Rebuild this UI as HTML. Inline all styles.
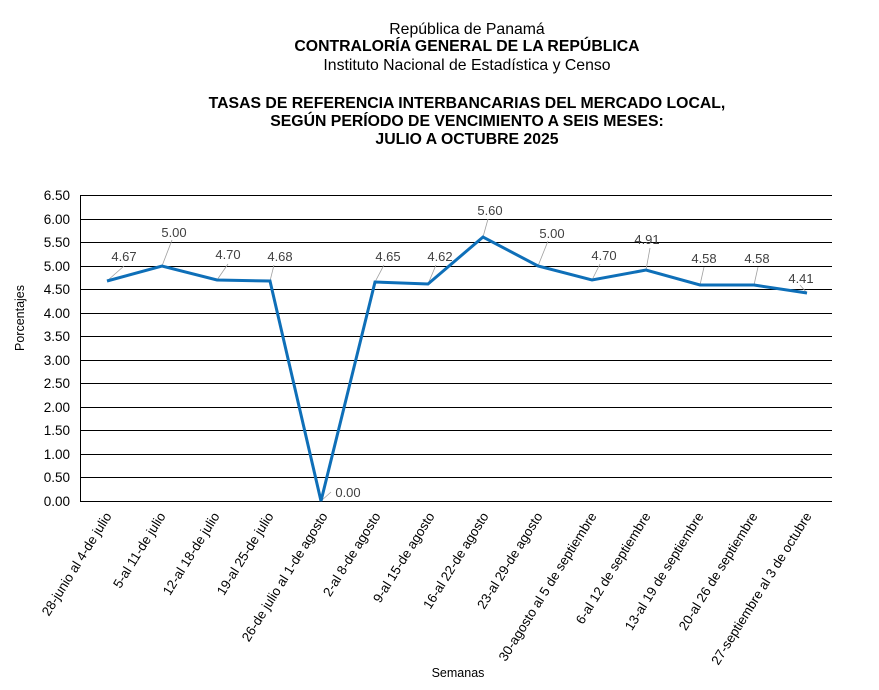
<!DOCTYPE html>
<html><head><meta charset="utf-8"><style>
body{margin:0;background:#fff;}
</style></head><body>
<svg width="879" height="685" xmlns="http://www.w3.org/2000/svg" font-family="Liberation Sans, sans-serif">
<rect width="879" height="685" fill="#fff"/>
<g text-anchor="middle" fill="#000">
<text x="467" y="34" font-size="15.8">República de Panamá</text>
<text x="467" y="51" font-size="15.8" font-weight="bold">CONTRALORÍA GENERAL DE LA REPÚBLICA</text>
<text x="467" y="70" font-size="15.8">Instituto  Nacional de Estadística y Censo</text>
<text x="467" y="108" font-size="15.8" font-weight="bold">TASAS DE REFERENCIA INTERBANCARIAS DEL MERCADO LOCAL,</text>
<text x="467" y="126" font-size="15.8" font-weight="bold">SEGÚN PERÍODO DE VENCIMIENTO A SEIS MESES:</text>
<text x="467" y="144" font-size="15.8" font-weight="bold">JULIO A OCTUBRE 2025</text>
</g>
<g stroke="#000" stroke-width="1">
<line x1="80" x2="832" y1="195.5" y2="195.5"/><line x1="80" x2="832" y1="219.5" y2="219.5"/><line x1="80" x2="832" y1="242.5" y2="242.5"/><line x1="80" x2="832" y1="266.5" y2="266.5"/><line x1="80" x2="832" y1="289.5" y2="289.5"/><line x1="80" x2="832" y1="313.5" y2="313.5"/><line x1="80" x2="832" y1="336.5" y2="336.5"/><line x1="80" x2="832" y1="360.5" y2="360.5"/><line x1="80" x2="832" y1="383.5" y2="383.5"/><line x1="80" x2="832" y1="407.5" y2="407.5"/><line x1="80" x2="832" y1="430.5" y2="430.5"/><line x1="80" x2="832" y1="454.5" y2="454.5"/><line x1="80" x2="832" y1="477.5" y2="477.5"/><line x1="80" x2="832" y1="501.5" y2="501.5"/>
<line x1="80.5" x2="80.5" y1="195" y2="501"/>
</g>
<g font-size="13.5" text-anchor="end" fill="#000">
<text x="70" y="200">6.50</text><text x="70" y="224">6.00</text><text x="70" y="247">5.50</text><text x="70" y="271">5.00</text><text x="70" y="294">4.50</text><text x="70" y="318">4.00</text><text x="70" y="341">3.50</text><text x="70" y="365">3.00</text><text x="70" y="388">2.50</text><text x="70" y="412">2.00</text><text x="70" y="435">1.50</text><text x="70" y="459">1.00</text><text x="70" y="482">0.50</text><text x="70" y="506">0.00</text>
</g>
<text transform="translate(24,318) rotate(-90)" font-size="12.5" text-anchor="middle">Porcentajes</text>
<text x="458" y="677" font-size="12.5" text-anchor="middle">Semanas</text>
<g stroke="#a0a0a0" stroke-width="0.8">
<line x1="107" y1="281" x2="124" y2="266"/><line x1="162" y1="266" x2="172" y2="240"/><line x1="217" y1="280" x2="228" y2="264"/><line x1="270" y1="281" x2="274" y2="265"/><line x1="321" y1="501" x2="331" y2="492"/><line x1="375" y1="282" x2="384" y2="265"/><line x1="428" y1="284" x2="436" y2="265"/><line x1="483" y1="237" x2="488" y2="219"/><line x1="538" y1="266" x2="548" y2="241"/><line x1="592" y1="280" x2="600" y2="264"/><line x1="646" y1="270" x2="650" y2="248"/><line x1="700" y1="285" x2="704" y2="267"/><line x1="754" y1="285" x2="758" y2="267"/><line x1="807" y1="293" x2="800" y2="285"/>
</g>
<polyline fill="none" stroke="#0e6fb8" stroke-width="3" stroke-linejoin="miter" points="107,281 162,266 217,280 270,281 321,501 375,282 428,284 483,237 538,266 592,280 646,270 700,285 754,285 807,293"/>
<g font-size="13" fill="#404040" text-anchor="middle">
<text x="124" y="261">4.67</text><text x="174" y="237">5.00</text><text x="228" y="259">4.70</text><text x="280" y="261">4.68</text><text x="348" y="497">0.00</text><text x="388" y="261">4.65</text><text x="440" y="261">4.62</text><text x="490" y="215">5.60</text><text x="552" y="238">5.00</text><text x="604" y="260">4.70</text><text x="647" y="244">4.91</text><text x="704" y="263">4.58</text><text x="757" y="263">4.58</text><text x="801" y="283">4.41</text>
</g>
<g font-size="13.3" text-anchor="end" fill="#000">
<text transform="translate(112,516) rotate(-58)">28-junio al 4-de julio</text>
<text transform="translate(166,516) rotate(-58)">5-al 11-de julio</text>
<text transform="translate(220,516) rotate(-58)">12-al 18-de julio</text>
<text transform="translate(274,516) rotate(-58)">19-al 25-de julio</text>
<text transform="translate(328,516) rotate(-58)">26-de julio al 1-de agosto</text>
<text transform="translate(381,516) rotate(-58)">2-al 8-de agosto</text>
<text transform="translate(435,516) rotate(-58)">9-al 15-de agosto</text>
<text transform="translate(489,516) rotate(-58)">16-al 22-de agosto</text>
<text transform="translate(543,516) rotate(-58)">23-al 29-de agosto</text>
<text transform="translate(597,516) rotate(-58)">30-agosto al 5 de septiembre</text>
<text transform="translate(651,516) rotate(-58)">6-al 12 de septiembre</text>
<text transform="translate(704,516) rotate(-58)">13-al 19 de septiembre</text>
<text transform="translate(758,516) rotate(-58)">20-al 26 de septiembre</text>
<text transform="translate(812,516) rotate(-58)">27-septiembre al 3 de octubre</text>
</g>
</svg>
</body></html>
